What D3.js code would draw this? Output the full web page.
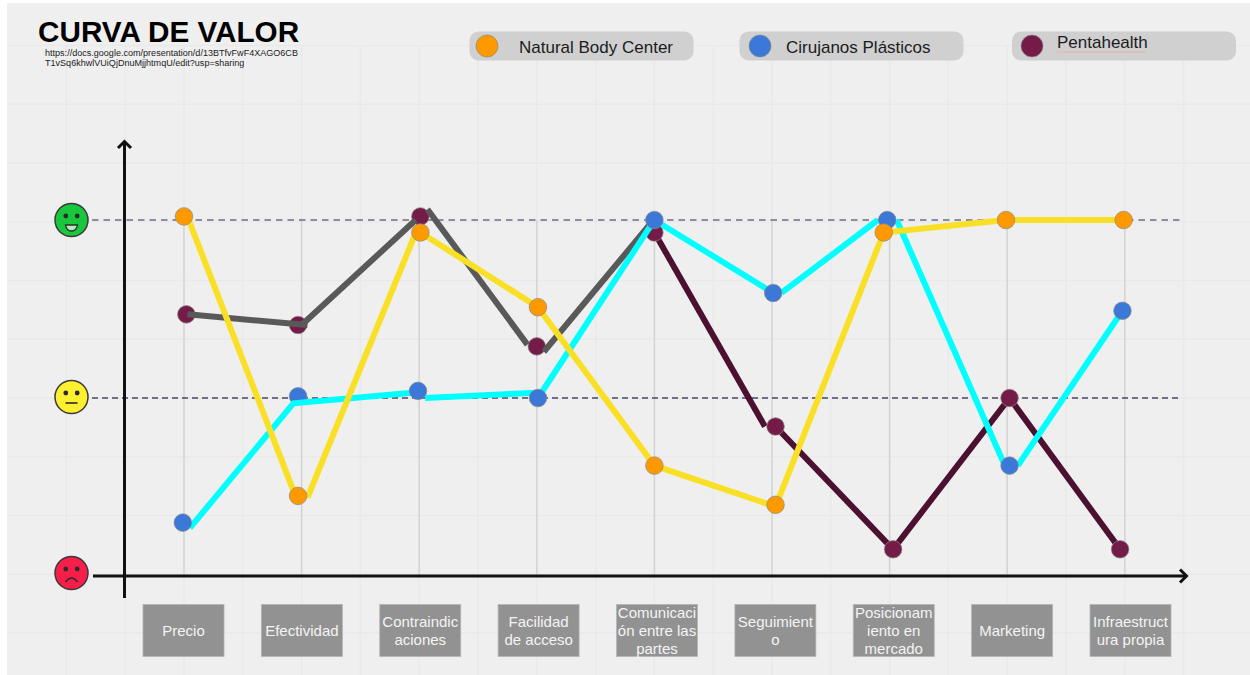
<!DOCTYPE html>
<html><head><meta charset="utf-8">
<script src="https://cdn.jsdelivr.net/npm/d3@7/dist/d3.min.js"></script>
<style>html,body{margin:0;padding:0;background:#fff}svg{display:block}text{font-family:"Liberation Sans",Arial,sans-serif}</style>
</head><body><svg id="c" width="1250" height="675"></svg>
<script>
const titleText = "CURVA DE VALOR";
const linkLines = ["https://docs.google.com/presentation/d/13BTfvFwF4XAGO6CB","T1vSq6khwlVUiQjDnuMjjhtmqU/edit?usp=sharing"];
const categories = ["Precio","Efectividad","Contraindicaciones","Facilidad de acceso","Comunicación entre las partes","Seguimiento","Posicionamiento en mercado","Marketing","Infraestructura propia"];
const categoryLines = [["Precio"],["Efectividad"],["Contraindic","aciones"],["Facilidad","de acceso"],["Comunicaci","ón entre las","partes"],["Seguimient","o"],["Posicionam","iento en","mercado"],["Marketing"],["Infraestruct","ura propia"]];
const seriesNames = ["Natural Body Center","Cirujanos Plásticos","Pentahealth"];
const levels = [2,1,0];

// marker positions: category position (fractional) and value
const naturalPos = [0,0.97,2.01,3.01,4,5.03,5.95,6.99,7.99];
const naturalVal = [2.02,0.45,1.93,1.51,0.62,0.40,1.93,2,2];
const cirujanosPos = [-0.01,0.97,1.99,3.01,4,5.01,5.98,7.02,7.98];
const cirujanosVal = [0.30,1.01,1.04,1,2,1.59,2,0.62,1.49];
const pentaPos = [0.02,0.97,2.01,3,4,5.03,6.03,7.02,7.96];
const pentaVal = [1.47,1.41,2.02,1.29,1.93,0.84,0.15,1,0.15];

// hand-drawn line pieces: [category position, value]
const naturalLines = [
  [[0.04,2.0],[0.93,0.48]],
  [[1.05,0.44],[1.99,1.96]],
  [[2.01,1.93],[3.01,1.51],[4,0.62],[5.03,0.39],[5.95,1.93],[6.99,2],[7.99,2]]
];
const cirujanosLines = [
  [[0.05,0.27],[0.93,0.97],[1.94,1.03]],
  [[2.05,1.0],[3.0,1.03]],
  [[3.01,1],[4,2],[5.01,1.59]],
  [[5.08,1.59],[5.9,2]],
  [[6.06,2],[6.98,0.62]],
  [[7.09,0.62],[7.98,1.49]]
];
const pentaGreyLines = [
  [[0.03,1.47],[1.05,1.41]],
  [[1.0,1.41],[1.97,2]],
  [[2.07,2.06],[2.92,1.30]],
  [[3.06,1.26],[3.98,1.99]]
];
const pentaDarkLines = [
  [[4,1.93],[4.94,0.84]],
  [[5.03,0.84],[6.03,0.15],[7.02,1],[7.96,0.15]]
];

const svg = d3.select("#c");
const x = d3.scaleLinear().domain([0,8]).range([184,1124.8]);
const y = d3.scaleLinear().domain([0,2]).range([576,220]);
const boxX = d3.scalePoint().domain(categories).range([183.5,1130.5]);
const line = d3.line().x(d=>x(d[0])).y(d=>y(d[1]));

// background
svg.append("rect").attr("x",7).attr("y",3).attr("width",1243).attr("height",672).attr("fill","#efefef");

// faint sheet grid
const gridXs = d3.range(-2,18).map(i=>i/2);
const gridYs = d3.range(0,11).map(i=>-0.32+i*0.33);
svg.append("g").selectAll("line").data(gridXs).join("line")
  .attr("x1",d=>x(d)).attr("x2",d=>x(d)).attr("y1",45).attr("y2",675)
  .attr("stroke","#e9e9e9").attr("stroke-width",1.5);
svg.append("g").selectAll("line").data(gridYs).join("line")
  .attr("x1",7).attr("x2",1250).attr("y1",d=>y(d)).attr("y2",d=>y(d))
  .attr("stroke","#e9e9e9").attr("stroke-width",1.5);

// category verticals
svg.append("g").selectAll("line").data(d3.range(0,9)).join("line")
  .attr("x1",d=>x(d)).attr("x2",d=>x(d)).attr("y1",y(2)).attr("y2",y(0))
  .attr("stroke","#d4d4d4").attr("stroke-width",1.5);

// dashed level lines
svg.append("line").attr("x1",92).attr("x2",1180).attr("y1",y(2)).attr("y2",y(2))
  .attr("stroke","#6f6c85").attr("stroke-width",1.6).attr("stroke-dasharray","6.5 5");
svg.append("line").attr("x1",92).attr("x2",1180).attr("y1",y(1)).attr("y2",y(1))
  .attr("stroke","#4a4665").attr("stroke-width",1.3).attr("stroke-dasharray","6 4");

// axes
const axisColor = "#111";
svg.append("line").attr("x1",124.5).attr("x2",124.5).attr("y1",598).attr("y2",142)
  .attr("stroke",axisColor).attr("stroke-width",3);
svg.append("path").attr("d","M118,148L124.5,141.5L131,148").attr("fill","none").attr("stroke",axisColor).attr("stroke-width",3);
svg.append("line").attr("x1",93).attr("x2",1186).attr("y1",y(0)).attr("y2",y(0))
  .attr("stroke",axisColor).attr("stroke-width",3);
svg.append("path").attr("d","M1180,569.5L1186.5,576L1180,582.5").attr("fill","none").attr("stroke",axisColor).attr("stroke-width",3);

// faces
const faceFill = {2:"#17c73c",1:"#fdf030",0:"#f81e4a"};
const faceDy = {2:0,1:-1,0:-3};
const faces = svg.append("g").selectAll("g").data(levels).join("g")
  .attr("transform",d=>`translate(71.5,${y(d)+faceDy[d]})`);
faces.append("circle").attr("r",16.5).attr("fill",d=>faceFill[d]).attr("stroke","#3a3a3a").attr("stroke-width",1.5);
faces.selectAll(".eye").data([-5.7,5.7]).join("circle").attr("class","eye").attr("cx",d=>d).attr("cy",-4).attr("r",2.4).attr("fill","#2c2c2c");
faces.filter(d=>d===2).append("path").attr("d","M-6,5 H6 Q5,11 0,11 Q-5,11 -6,5Z").attr("fill","#b8eac0").attr("stroke","#2c2c2c").attr("stroke-width",1.3);
faces.filter(d=>d===1).append("line").attr("x1",-6).attr("x2",6).attr("y1",6).attr("y2",6).attr("stroke","#2c2c2c").attr("stroke-width",1.6);
faces.filter(d=>d===0).append("path").attr("d","M-6,9 Q0,1 6,9").attr("fill","none").attr("stroke","#2c2c2c").attr("stroke-width",1.6);

function pieces(data,color,w){
  svg.append("g").selectAll("path").data(data).join("path").attr("d",line)
    .attr("fill","none").attr("stroke",color).attr("stroke-width",w).attr("stroke-linejoin","miter");
}
function dots(pos,val,color,stroke,keep){
  const pts = pos.map((p,i)=>({p,v:val[i],i})).filter(keep||(()=>true));
  svg.append("g").selectAll("circle").data(pts).join("circle")
    .attr("cx",d=>x(d.p)).attr("cy",d=>y(d.v)).attr("r",8.8)
    .attr("fill",color).attr("stroke",stroke).attr("stroke-width",0.7);
}
const orange="#ff9900", blue="#3c78d8", plum="#741b47";
pieces(pentaDarkLines,"#4c1130",6);
dots(pentaPos,pentaVal,plum,"#8a8a8a");
pieces(pentaGreyLines,"#595959",6);
dots(cirujanosPos,cirujanosVal,blue,"#8a8a8a",d=>d.i===1);
pieces(cirujanosLines,"#00ffff",6);
dots(cirujanosPos,cirujanosVal,blue,"#8a8a8a",d=>d.i!==1);
pieces(naturalLines,"#f9e026",6);
dots(naturalPos,naturalVal,orange,"#8a8a8a");

// category boxes
const boxes = svg.append("g").selectAll("g").data(categories).join("g")
  .attr("transform",d=>`translate(${boxX(d)},630.5)`);
boxes.append("rect").attr("x",-40.5).attr("y",-26).attr("width",81).attr("height",52)
  .attr("fill","#929292").attr("stroke","#b5b5b5").attr("stroke-width",0.8);
boxes.each(function(d,i){
  const ls = categoryLines[i];
  const g = d3.select(this);
  ls.forEach((t,k)=>{
    g.append("text").attr("text-anchor","middle").attr("y",(k-(ls.length-1)/2)*18+5.3)
      .attr("font-size",15).attr("fill","#f4f4f4").text(t);
  });
});

// title
svg.append("text").attr("x",38).attr("y",41.5).attr("font-size",29.7).attr("font-weight",700).attr("fill","#000").text(titleText);
linkLines.forEach((t,i)=>{
  svg.append("text").attr("x",45).attr("y",55.5+i*10.7).attr("font-size",9.05).attr("fill","#222").text(t);
});

// legend
const legendX = [469.5,739.5,1012];
const legendDot = [487,760,1032];
const legendTextX = [519,786,1057];
const legendTextY = [52.5,52.5,48];
const legendColors = [orange,blue,plum];
const legend = svg.append("g").selectAll("g").data(seriesNames).join("g");
legend.append("rect").attr("x",(d,i)=>legendX[i]).attr("y",31.5).attr("width",224).attr("height",29).attr("rx",9)
  .attr("fill","#d0d0d0");
legend.append("circle").attr("cx",(d,i)=>legendDot[i]).attr("cy",46).attr("r",11)
  .attr("fill",(d,i)=>legendColors[i]).attr("stroke","#8a8a8a").attr("stroke-width",0.7);
legend.append("text").attr("x",(d,i)=>legendTextX[i]).attr("y",(d,i)=>legendTextY[i])
  .attr("font-size",17).attr("fill","#1c1c1c").text(d=>d);
svg.append("line").attr("x1",1057).attr("x2",1146).attr("y1",52).attr("y2",52).attr("stroke","#eab0ae").attr("stroke-width",1);
</script></body></html>
